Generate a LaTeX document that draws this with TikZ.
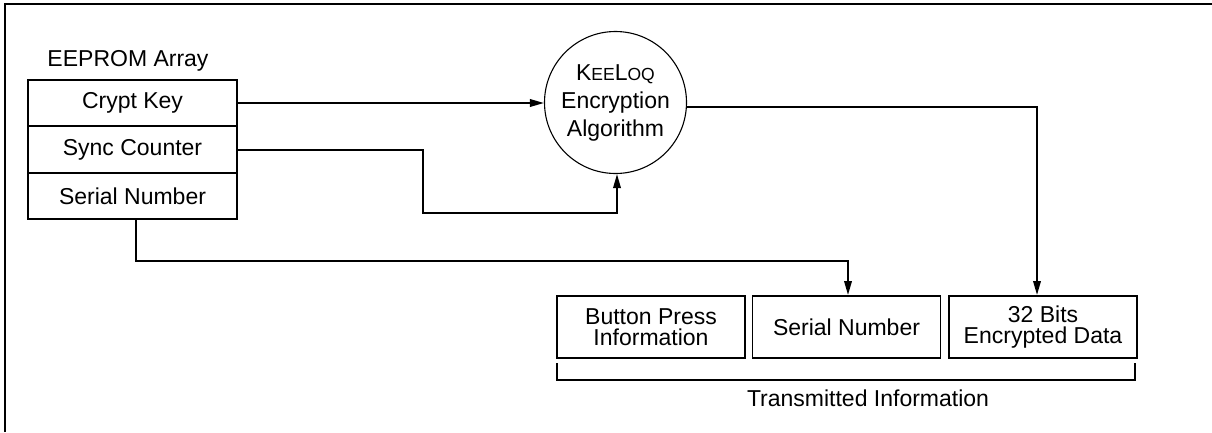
\documentclass[tikz,border=0pt]{standalone}
\usepackage{fontspec}
\setmainfont{Liberation Sans}
\usetikzlibrary{arrows.meta,calc}
\begin{document}
\begin{tikzpicture}[x=1pt,y=-1pt,
  txt/.style={font=\fontsize{23}{21}\selectfont, inner sep=0pt, align=center},
  cell/.style={txt, draw, line width=1.9pt, minimum width=209pt, minimum height=46.5pt},
  field/.style={txt, draw, line width=1.9pt, minimum width=188pt, minimum height=62pt},
  conn/.style={line width=1.9pt},
  arr/.style={conn, -{Triangle[length=14pt,width=7.5pt]}},
  frame/.style={line width=2.4pt}]
\useasboundingbox (0,0) rectangle (1212,432);
% outer frame (only top and left edges visible)
\coordinate (fTL) at (5,4);
\coordinate (fTR) at (1212,4);
\coordinate (fBL) at (5,432);
\draw[frame] (fBL) -- (fTL) -- (fTR);

% EEPROM array
\node[txt] (title) at (128,61) {EEPROM Array};
\node[cell] (ck) at (132.5,103) {Crypt Key};
\node[cell] (sc) at (132.5,149.5) {Sync Counter};
\node[cell] (sn) at (132.5,196) {Serial Number};

% KeeLoq circle
\node[draw, circle, line width=1.1pt, minimum size=142pt, inner sep=0pt,
      font=\fontsize{23}{28}\selectfont, align=center] (kq) at (615.5,102.5)
  {K{\fontsize{17.5}{17}\selectfont EE}L{\fontsize{17.5}{17}\selectfont OQ}\\Encryption\\Algorithm};

% transmitted fields
\node[field] (bp) at (651,327) {Button Press\\Information};
\node[field] (snb) at (846.5,327) {Serial Number};
\node[field] (eb) at (1043,327) {32 Bits\\Encrypted Data};

% bracket and label
\coordinate (b1) at (557,363);
\coordinate (b2) at (557,380);
\coordinate (b3) at (1135,380);
\coordinate (b4) at (1135,363);
\draw[conn] (b1) -- (b2) -- (b3) -- (b4);
\node[txt] (ti) at (868,398) {Transmitted Information};

% connectors
\draw[arr] (ck.east) -- (ck.east -| kq.west);
\coordinate (s1) at (423,150);
\coordinate (s2) at (617,213);
\draw[arr] (sc.east |- s1) -- (s1) -- (s1 |- s2) -- (s2) -- (s2 |- kq.south);
\coordinate (t0) at (136,219);
\coordinate (t1) at (848,261);
\draw[arr] (t0) |- (t1) -- (t1 |- snb.north);
\coordinate (o1) at (1037,107);
\draw[arr] (kq.east |- o1) -- (o1) -- (o1 |- eb.north);
\end{tikzpicture}
\end{document}
